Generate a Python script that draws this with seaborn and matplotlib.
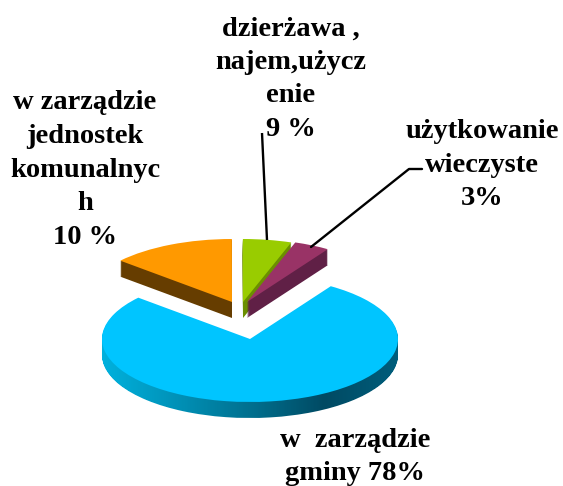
import matplotlib
matplotlib.use('Agg')
import matplotlib.pyplot as plt
from matplotlib.colors import LinearSegmentedColormap
from matplotlib.path import Path
import numpy as np
import seaborn as sns

# --- data (slice sizes as drawn in the picture, labels as printed) ---
categories = ['w zarządzie gminy', 'użytkowanie wieczyste', 'dzierżawa, najem, użyczenie', 'w zarządzie jednostek komunalnych']
shares = [77.2, 3.9, 5.3, 13.6]
labels = [
    'w  zarządzie\ngminy 78%',
    'użytkowanie\nwieczyste\n3%',
    'dzierżawa ,\nnajem,użycz\nenie\n9 %',
    'w zarządzie\njednostek\nkomunalnyc\nh\n10 %',
]

face_colors = ['#00C5FF', '#993366', '#99CC00', '#FF9900']
wall_colors = ['#007090', '#602046', '#6B8F00', '#663D00']
side_ramp = ['#00B2DE', '#0092B8', '#00708F', '#004A63', '#005E7C']

# --- layout, in pixels of the 563x486 picture ---
W, H = 563, 486
squash = 63 / 148
radius = 148
depth = 16
start = 139
apex_px = [(250, 339), (247, 302), (243, 302), (232, 302)]
zorders = [1, 4, 3, 2]
label_px = [(355, 457), (482, 165), (291, 79), (85, 170)]


def y_data(py):
    return (H - py) / squash


sns.set_theme(style='white')
plt.rcParams['font.family'] = ['Liberation Serif', 'DejaVu Serif']

fig = plt.figure(figsize=(W / 100, H / 100), dpi=100)
ax = fig.add_axes([0, 0, 1, 1])

# side walls: the same pie stacked downwards
blue_paths = []
for d in range(depth, 0, -1):
    wedges, _ = ax.pie(shares, colors=wall_colors, radius=radius, startangle=start,
                       wedgeprops={'linewidth': 0})
    for i, w in enumerate(wedges):
        w.set_center((apex_px[i][0], y_data(apex_px[i][1] + d)))
        w.set_zorder(zorders[i])
    wedges[0].set_visible(False)
    blue_paths.append(wedges[0].get_path())

# shaded front of the big slice
ramp = LinearSegmentedColormap.from_list('side', side_ramp)
im = ax.imshow(np.linspace(0, 1, 300).reshape(1, -1), cmap=ramp, aspect='auto',
               extent=(100, 400, y_data(430), y_data(300)), zorder=zorders[0])
im.set_clip_path(Path.make_compound_path(*blue_paths), ax.transData)

# top faces
wedges, _ = ax.pie(shares, colors=face_colors, radius=radius, startangle=start,
                   wedgeprops={'linewidth': 0})
for i, w in enumerate(wedges):
    w.set_center((apex_px[i][0], y_data(apex_px[i][1])))
    w.set_zorder(zorders[i] + 0.5)

# leader lines
ax.plot([262, 267], [y_data(133), y_data(240)], color='black', lw=1.7, zorder=6, solid_capstyle='butt')
ax.plot([422, 409, 311], [y_data(169), y_data(169), y_data(247)], color='black', lw=1.7, zorder=6)

ax.set_aspect('auto')
ax.set_xlim(0, W)
ax.set_ylim(0, H / squash)
ax.axis('off')

for text, (x, y) in zip(labels, label_px):
    fig.text(x / W, 1 - y / H, text, ha='center', va='center', fontsize=20.5,
             fontweight='bold', color='black', linespacing=1.45)

fig.savefig('out.png', dpi=100, facecolor='white')
